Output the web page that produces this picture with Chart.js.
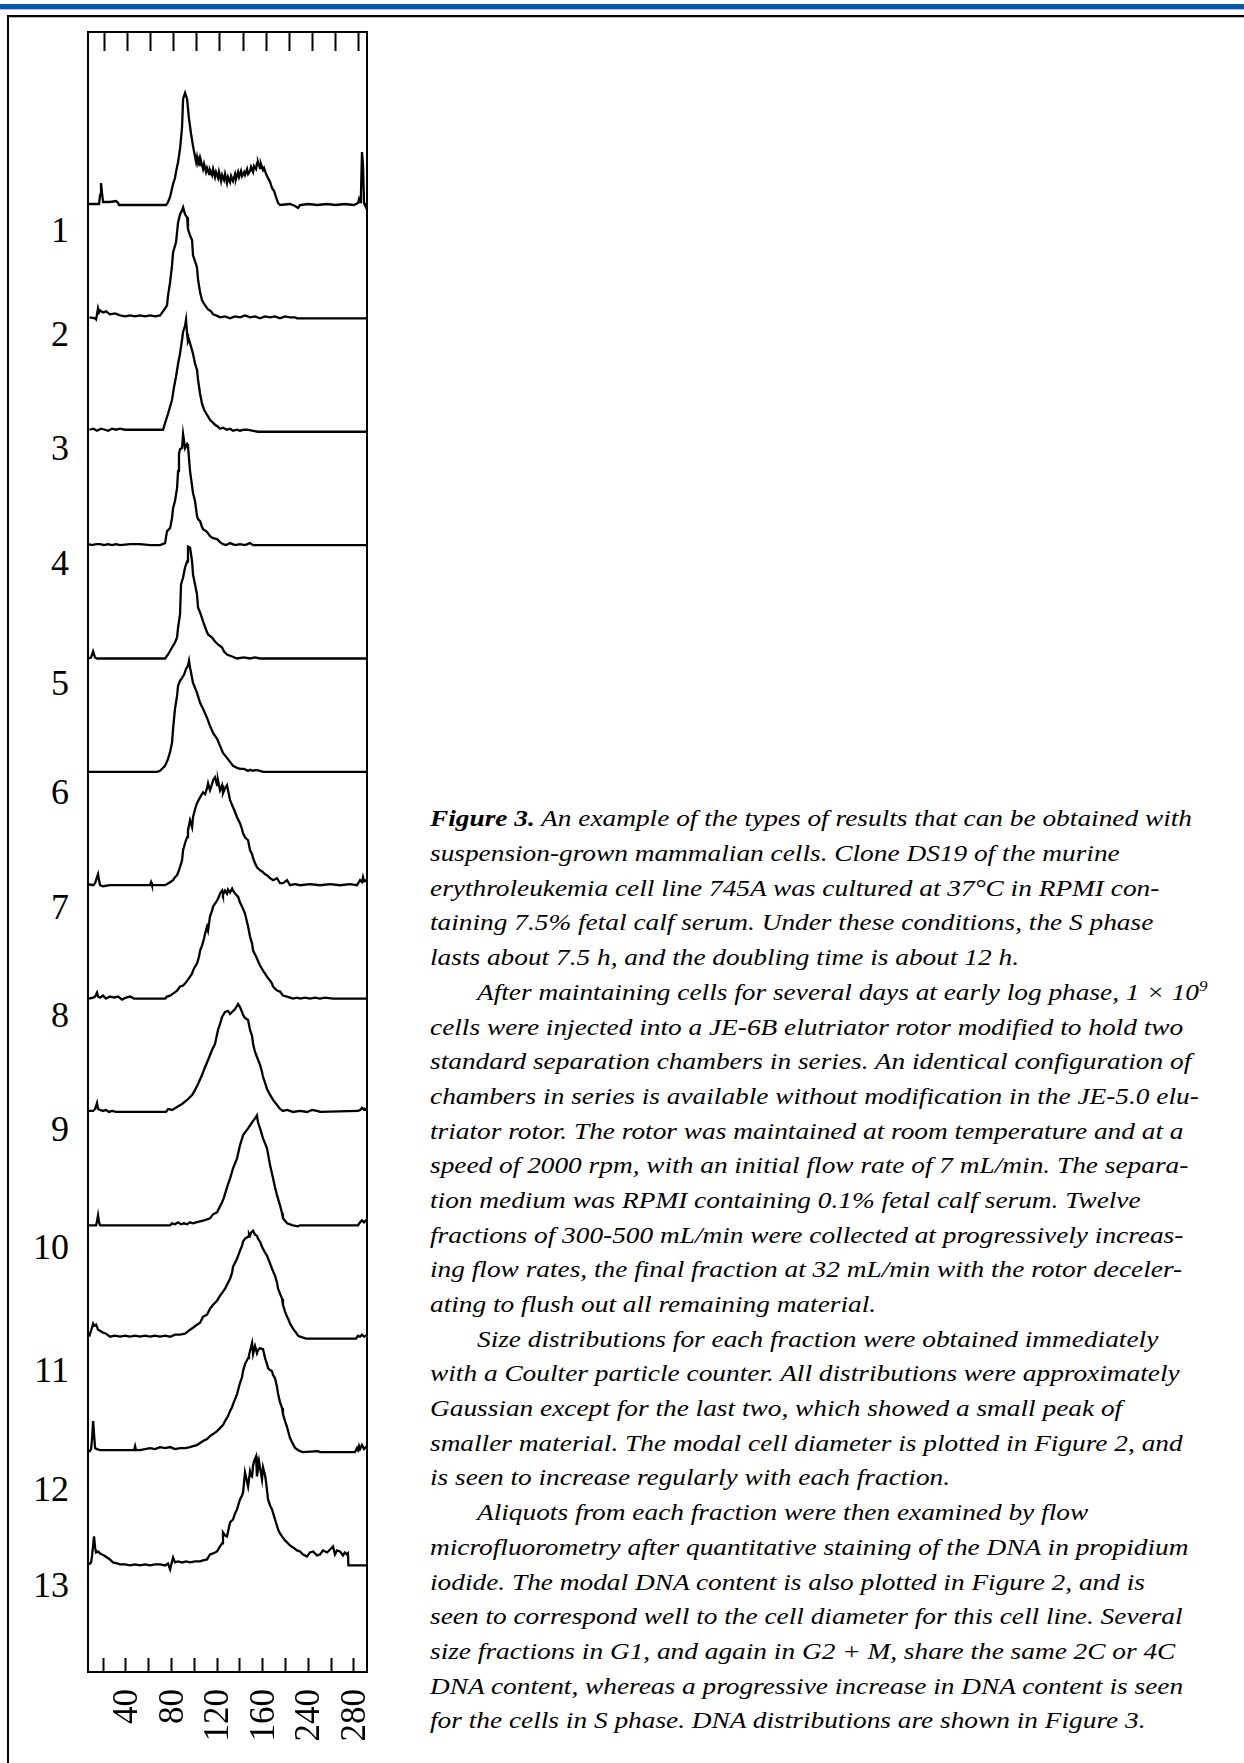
<!DOCTYPE html>
<html><head><meta charset="utf-8">
<script src="https://cdn.jsdelivr.net/npm/chart.js@4.4.1/dist/chart.umd.min.js"></script>
<style>
html,body{margin:0;padding:0;background:#fff;}
body{width:1244px;height:1763px;position:relative;overflow:hidden;}
#bar{position:absolute;left:0;top:4px;width:1244px;height:5px;background:#0758a8;}
#bar2{position:absolute;left:0;top:9px;width:1244px;height:1px;background:#a7c4e6;}
#frameTop{position:absolute;left:7px;top:15px;width:1237px;height:2px;background:#000;}
#frameShadow{position:absolute;left:9px;top:17px;width:1235px;height:1px;background:#bbb;}
#frameLeft{position:absolute;left:7px;top:15px;width:2px;height:1748px;background:#000;}
#chart{position:absolute;left:0;top:0;}
.rowlab{position:absolute;left:9px;width:60px;text-align:right;font-family:'Liberation Serif','Times New Roman',serif;font-size:36px;line-height:36px;color:#000;}
#caption{position:absolute;left:430px;top:801.4px;font-family:'Liberation Serif','Times New Roman',serif;font-style:italic;font-size:24px;line-height:34.7px;color:#000;white-space:nowrap;transform-origin:0 0;}
#caption div{height:34.7px;}
#caption sup{font-size:15px;line-height:0;vertical-align:9px;}
</style>
</head>
<body>
<div id="bar"></div><div id="bar2"></div>
<div id="frameTop"></div><div id="frameShadow"></div><div id="frameLeft"></div>
<div id="rowLabels"></div>
<div id="caption">
<div id="capFirst"><b>Figure 3.</b> An example of the types of results that can be obtained with</div>
<div>suspension-grown mammalian cells. Clone DS19 of the murine</div>
<div>erythroleukemia cell line 745A was cultured at 37°C in RPMI con-</div>
<div>taining 7.5% fetal calf serum. Under these conditions, the S phase</div>
<div>lasts about 7.5 h, and the doubling time is about 12 h.</div>
<div class="ind">After maintaining cells for several days at early log phase, 1 × 10<sup>9</sup></div>
<div>cells were injected into a JE-6B elutriator rotor modified to hold two</div>
<div>standard separation chambers in series. An identical configuration of</div>
<div>chambers in series is available without modification in the JE-5.0 elu-</div>
<div>triator rotor. The rotor was maintained at room temperature and at a</div>
<div>speed of 2000 rpm, with an initial flow rate of 7 mL/min. The separa-</div>
<div>tion medium was RPMI containing 0.1% fetal calf serum. Twelve</div>
<div>fractions of 300-500 mL/min were collected at progressively increas-</div>
<div>ing flow rates, the final fraction at 32 mL/min with the rotor deceler-</div>
<div>ating to flush out all remaining material.</div>
<div class="ind">Size distributions for each fraction were obtained immediately</div>
<div>with a Coulter particle counter. All distributions were approximately</div>
<div>Gaussian except for the last two, which showed a small peak of</div>
<div>smaller material. The modal cell diameter is plotted in Figure 2, and</div>
<div>is seen to increase regularly with each fraction.</div>
<div class="ind">Aliquots from each fraction were then examined by flow</div>
<div>microfluorometry after quantitative staining of the DNA in propidium</div>
<div>iodide. The modal DNA content is also plotted in Figure 2, and is</div>
<div>seen to correspond well to the cell diameter for this cell line. Several</div>
<div>size fractions in G1, and again in G2 + M, share the same 2C or 4C</div>
<div>DNA content, whereas a progressive increase in DNA content is seen</div>
<div>for the cells in S phase. DNA distributions are shown in Figure 3.</div>
</div>
<canvas id="chart" width="1244" height="1763"></canvas>
<script>
// ---- data: [channel, relative count] per fraction ----
const fractionLabels = ['1','2','3','4','5','6','7','8','9','10','11','12','13'];
const tickValues = [20,40,60,80,100,120,140,160,180,200,220,240];
const tickLabels = ['','40','','80','','120','','160','','240','','280'];

const fraction1 = [[6.8,1],[16.5,1],[17.4,10],[18.2,22],[19.1,12],[20.0,3],[26.1,3],[31.4,4],[33.2,2],[34.0,0],[61.2,0],[75.3,0],[77.0,3],[78.8,8],[81.4,21],[83.1,27],[84.0,33],[85.8,43],[87.5,56],[89.3,78],[90.2,106],[91.9,112],[93.7,106],[95.4,86],[97.2,71],[98.9,59],[101.6,43],[102.4,48],[103.3,42],[104.2,46],[105.1,40],[105.9,44],[107.7,36],[108.6,41],[110.3,33],[111.2,37],[113.0,31],[113.8,35],[115.6,30],[116.5,36],[118.2,28],[119.1,33],[120.9,27],[121.7,33],[123.5,24],[124.4,30],[126.1,25],[127.0,31],[128.7,22],[129.6,28],[131.4,23],[132.3,29],[134.0,24],[135.8,31],[136.6,26],[138.4,33],[139.3,28],[141.0,34],[141.9,29],[143.7,33],[144.5,30],[146.3,36],[147.2,31],[148.9,34],[149.8,38],[151.6,33],[152.4,39],[154.2,36],[155.1,42],[155.9,43],[157.7,37],[158.5,41],[160.3,35],[161.2,37],[163.0,31],[164.7,27],[166.5,23],[168.2,17],[170.0,14],[171.7,8],[173.5,2],[175.2,0],[184.0,1],[188.4,-1],[191.0,-3],[192.8,0],[200.0,1],[208.0,0],[216.0,1],[224.0,0],[232.0,1],[240.0,0],[243.6,2],[244.5,6],[245.4,3],[246.2,10],[247.1,53],[248.0,40],[248.9,2],[249.7,0],[251.5,0]];

const fraction2 = [[8.1,1],[13.0,0],[13.9,-1],[14.7,4],[15.6,10],[16.5,6],[17.4,8],[20.0,6],[22.6,7],[26.1,4],[30.5,5],[34.9,3],[39.3,2],[43.7,3],[48.1,2],[52.4,3],[56.8,2],[61.2,3],[65.6,2],[70.0,3],[72.6,7],[74.4,10],[76.1,13],[77.0,23],[78.8,36],[80.5,53],[81.4,66],[84.0,76],[85.8,96],[87.5,104],[89.3,108],[90.2,111],[91.9,104],[93.7,101],[94.5,89],[96.3,83],[98.1,78],[98.9,63],[100.7,57],[102.4,51],[103.3,39],[105.1,26],[106.8,18],[109.5,13],[112.1,9],[114.7,7],[116.5,4],[119.1,3],[122.6,1],[127.0,2],[131.4,0],[135.8,2],[140.1,1],[144.5,3],[148.9,1],[153.3,2],[157.7,0],[162.1,2],[166.5,1],[170.8,2],[175.2,0],[179.6,2],[184.0,1],[188.4,1],[190.1,0],[251.5,0]];

const fraction3 = [[8.1,2],[11.5,3],[14.7,1],[18.2,3],[21.8,2],[24.4,1],[27.9,3],[31.4,2],[34.9,3],[39.3,2],[43.7,2],[52.4,2],[61.2,2],[70.0,2],[72.6,2],[75.3,12],[77.0,18],[80.5,32],[82.3,45],[84.0,55],[85.8,68],[87.5,78],[89.3,92],[90.2,100],[91.9,106],[92.8,112],[93.7,98],[94.5,90],[95.4,92],[97.2,85],[98.9,78],[100.7,68],[102.4,62],[103.3,52],[105.1,38],[106.8,28],[108.6,22],[111.2,17],[113.8,12],[116.5,9],[118.2,7],[120.8,5],[122.6,3],[125.2,4],[128.7,2],[131.4,3],[134.0,1],[137.5,2],[140.1,1],[143.7,2],[146.3,2],[150.7,1],[155.9,0],[251.5,0]];

const fraction4 = [[6.8,1],[10.4,0],[13.9,1],[17.4,1],[20.9,0],[24.4,1],[27.9,0],[31.4,1],[34.9,0],[43.7,1],[52.4,1],[61.2,0],[70.0,0],[74.4,2],[76.1,14],[78.8,17],[80.5,27],[81.4,37],[83.1,44],[84.9,57],[85.8,74],[86.6,91],[87.5,96],[89.3,97],[90.2,111],[91.9,97],[93.7,101],[94.5,99],[96.3,74],[98.1,59],[98.9,52],[100.7,44],[102.4,29],[103.3,26],[105.1,24],[106.8,18],[107.7,16],[110.3,14],[112.1,12],[113.8,9],[116.5,7],[120.0,6],[122.6,3],[125.2,1],[127.9,0],[131.4,2],[135.8,0],[140.1,1],[144.5,0],[148.9,2],[151.6,0],[251.5,0]];

const fraction5 = [[6.8,0],[9.5,1],[11.3,7],[13.0,1],[14.7,0],[43.7,0],[74.4,0],[77.0,4],[80.5,11],[83.1,16],[84.9,21],[85.8,31],[87.5,44],[88.4,74],[90.2,81],[91.9,91],[93.7,97],[94.5,112],[96.3,111],[98.1,97],[98.9,84],[100.7,74],[102.4,64],[103.3,51],[105.1,46],[107.7,37],[110.3,29],[112.1,24],[115.6,21],[118.2,17],[120.8,14],[124.4,11],[126.1,7],[128.7,4],[133.2,2],[137.5,0],[143.3,1],[149.0,0],[153.3,1],[157.7,0],[251.5,0]];

const fraction6 = [[6.8,0],[34.9,0],[67.4,0],[70.0,1],[74.4,6],[77.0,13],[78.8,20],[80.5,29],[81.4,43],[83.1,63],[84.9,76],[85.8,86],[87.5,91],[89.3,94],[91.0,97],[92.8,103],[94.5,106],[95.4,111],[96.3,104],[97.2,99],[98.9,89],[100.7,84],[102.4,79],[105.1,69],[107.7,63],[111.2,54],[113.8,46],[116.5,39],[120.0,33],[122.6,26],[125.2,19],[128.7,14],[131.4,10],[134.0,6],[137.5,4],[140.1,3],[143.7,3],[147.2,1],[148.9,2],[151.6,1],[154.2,2],[157.7,1],[160.3,0],[251.5,0]];

const fraction7 = [[6.8,1],[11.3,0],[13.0,2],[14.7,8],[15.6,11],[16.5,5],[17.4,0],[20.0,-1],[26.1,0],[43.7,0],[61.2,0],[62.1,3],[62.9,0],[74.4,0],[78.8,3],[81.4,5],[83.1,8],[84.9,10],[86.6,15],[89.3,25],[90.2,35],[91.9,42],[93.7,48],[94.5,55],[96.3,65],[98.1,58],[98.9,68],[100.7,76],[102.4,82],[105.1,88],[107.7,93],[109.5,91],[111.2,97],[112.1,102],[113.8,95],[115.6,101],[116.5,105],[118.2,108],[120.0,100],[120.8,105],[122.6,95],[124.4,100],[125.2,92],[127.0,97],[128.7,100],[129.6,95],[131.4,85],[134.0,78],[135.8,73],[137.5,68],[140.1,62],[141.9,56],[142.8,52],[144.5,48],[147.2,45],[148.9,35],[150.7,31],[151.6,27],[153.3,22],[155.0,18],[157.7,15],[160.3,13],[162.1,11],[163.8,10],[166.5,7],[169.1,5],[170.8,6],[172.6,7],[175.2,2],[177.8,2],[181.4,5],[184.0,0],[188.4,1],[192.8,0],[201.5,1],[210.3,0],[219.1,1],[227.8,0],[236.6,1],[242.7,0],[245.4,5],[247.1,3],[248.0,8],[248.9,4],[250.6,5],[251.5,3]];

const fraction8 = [[7.7,0],[11.3,1],[13.0,2],[13.9,4],[14.7,6],[15.6,2],[17.4,1],[20.0,3],[22.6,0],[26.1,2],[29.6,1],[33.2,2],[36.7,-1],[40.2,1],[43.7,2],[47.2,0],[52.4,0],[74.4,0],[76.1,2],[78.8,3],[81.4,5],[84.9,8],[87.5,12],[90.2,13],[91.9,15],[94.5,19],[96.3,22],[98.1,25],[98.9,28],[100.7,32],[102.4,35],[104.2,42],[105.1,48],[106.8,53],[108.6,60],[109.5,65],[111.2,72],[112.1,68],[113.8,82],[115.6,88],[116.5,92],[118.2,95],[120.0,98],[121.7,102],[122.6,105],[124.4,108],[125.2,104],[127.0,108],[128.7,105],[129.6,109],[131.4,106],[133.2,110],[134.0,108],[135.8,105],[137.5,103],[138.4,102],[140.1,96],[141.9,92],[144.5,85],[147.2,72],[148.9,62],[150.7,55],[151.6,48],[153.3,44],[155.0,40],[157.7,33],[160.3,28],[162.1,25],[163.8,22],[166.5,18],[168.2,15],[169.1,12],[170.8,10],[172.6,8],[175.2,7],[177.8,3],[181.4,2],[184.0,1],[186.6,0],[190.1,1],[192.8,0],[197.2,1],[201.5,0],[205.9,1],[210.3,0],[214.7,1],[221.7,0],[251.5,0]];

const fraction9 = [[7.7,1],[11.3,1],[13.0,3],[13.9,6],[14.7,9],[15.6,3],[17.4,2],[20.0,1],[22.6,2],[25.2,0],[27.9,1],[31.4,0],[43.7,0],[75.3,0],[77.0,3],[80.5,2],[84.9,5],[89.3,8],[93.7,12],[98.1,17],[100.7,22],[103.3,28],[106.8,37],[109.5,45],[112.1,52],[115.6,62],[118.2,68],[120.8,82],[122.6,88],[124.4,95],[127.0,100],[129.6,101],[131.4,98],[133.2,100],[135.8,103],[137.5,106],[138.4,108],[140.1,105],[141.9,100],[142.8,97],[144.5,94],[147.2,92],[148.9,82],[150.7,76],[151.6,68],[153.3,60],[155.0,55],[157.7,47],[159.4,40],[160.3,35],[162.1,29],[163.8,23],[166.5,17],[169.1,12],[172.6,7],[175.2,3],[177.8,1],[181.4,2],[186.6,0],[192.8,1],[198.9,0],[203.3,2],[207.7,1],[210.3,0],[243.6,1],[245.4,2],[247.1,4],[248.9,2],[249.7,3],[251.5,2]];

const fraction10 = [[7.7,0],[13.9,0],[14.7,4],[15.6,10],[16.5,3],[17.4,0],[43.7,0],[78.8,0],[80.5,2],[83.1,1],[85.8,3],[88.4,1],[91.0,2],[93.7,1],[96.3,3],[98.9,2],[101.6,3],[105.1,4],[108.6,5],[111.2,6],[113.8,7],[116.5,11],[120.0,13],[122.6,19],[124.4,23],[126.1,28],[128.7,38],[131.4,47],[134.0,57],[137.5,67],[140.1,80],[142.8,90],[144.5,93],[147.2,97],[150.7,103],[153.3,107],[155.0,110],[155.9,103],[157.7,97],[160.3,87],[162.1,82],[163.8,77],[166.5,60],[169.1,47],[170.8,38],[172.6,30],[175.2,20],[177.0,12],[177.8,7],[181.4,2],[184.0,1],[186.6,0],[191.0,-1],[192.8,0],[243.6,0],[245.4,3],[247.1,5],[248.9,3],[250.6,5],[251.5,4]];

const fraction11 = [[7.7,2],[9.5,8],[11.3,15],[12.1,13],[13.9,14],[15.6,9],[17.4,8],[20.0,6],[22.6,5],[26.1,2],[30.5,3],[34.9,2],[39.3,3],[43.7,2],[48.1,3],[52.4,2],[56.8,3],[61.2,2],[65.6,3],[70.0,2],[74.4,3],[78.8,2],[83.1,4],[87.5,4],[91.9,5],[96.3,9],[98.9,11],[102.4,14],[105.1,16],[107.7,22],[111.2,24],[113.8,30],[116.5,34],[120.0,38],[122.6,43],[125.2,47],[127.0,50],[129.6,56],[131.4,60],[133.2,66],[134.0,72],[135.8,76],[137.5,80],[140.1,88],[141.9,93],[142.8,97],[144.5,100],[147.2,102],[148.0,105],[148.9,103],[149.8,106],[151.6,108],[153.3,104],[155.0,103],[155.9,100],[157.7,97],[159.4,92],[160.3,90],[162.1,86],[163.8,83],[166.5,75],[168.2,70],[170.8,63],[172.6,56],[173.5,50],[175.2,45],[177.0,40],[177.8,34],[179.6,27],[181.4,22],[182.3,20],[184.0,15],[186.6,10],[189.3,6],[191.0,3],[192.8,2],[195.4,1],[198.0,0],[201.5,0],[241.9,0],[243.6,3],[245.4,2],[247.1,4],[248.9,2],[250.6,3],[251.5,3]];

const fraction12 = [[7.7,0],[9.5,3],[10.4,14],[11.3,31],[12.1,18],[13.0,4],[14.7,3],[17.4,2],[21.8,2],[26.1,2],[30.5,2],[34.9,2],[39.3,2],[43.7,2],[47.2,2],[48.1,6],[48.9,2],[52.4,2],[56.8,3],[61.2,4],[65.6,3],[70.0,5],[74.4,4],[78.8,5],[83.1,3],[87.5,4],[91.9,4],[96.3,5],[98.9,6],[102.4,7],[105.1,9],[107.7,11],[111.2,13],[113.8,16],[116.5,18],[120.0,21],[122.6,24],[125.2,27],[127.0,31],[129.6,36],[131.4,41],[133.2,45],[134.0,48],[135.8,53],[137.5,58],[140.1,69],[141.9,75],[142.8,81],[144.5,88],[147.2,94],[148.0,97],[148.9,101],[149.8,105],[150.7,109],[151.6,98],[153.3,106],[155.0,99],[155.9,102],[157.7,104],[159.4,103],[160.3,103],[162.1,94],[163.8,88],[164.7,84],[166.5,82],[168.2,81],[169.1,77],[170.8,74],[172.6,65],[173.5,58],[175.2,50],[177.0,44],[177.8,38],[179.6,31],[181.4,25],[182.3,21],[184.0,14],[185.7,10],[188.4,4],[191.0,2],[192.8,1],[195.4,0],[208.5,1],[210.3,0],[227.8,0],[241.0,0],[242.7,4],[243.6,2],[244.5,6],[245.4,3],[247.1,7],[248.9,3],[250.6,5],[251.5,4]];

const fraction13 = [[7.7,1],[9.5,3],[10.4,10],[11.3,20],[12.1,29],[13.0,18],[13.9,13],[15.6,14],[17.4,12],[19.1,11],[20.9,10],[23.5,8],[26.1,6],[28.7,3],[32.3,2],[34.9,1],[39.3,1],[43.7,0],[48.1,1],[52.4,0],[56.8,1],[61.2,0],[65.6,1],[70.0,1],[74.4,0],[77.0,2],[78.8,-4],[80.5,4],[81.4,8],[83.1,3],[85.8,4],[89.3,3],[92.8,4],[96.3,3],[100.7,4],[105.1,4],[107.7,5],[111.2,6],[113.8,11],[116.5,12],[120.0,14],[122.6,19],[124.4,22],[125.2,33],[127.0,30],[128.7,29],[131.4,43],[134.0,46],[135.8,52],[137.5,56],[140.1,66],[141.9,70],[142.8,73],[144.5,93],[147.2,79],[148.9,94],[149.8,90],[150.7,89],[151.6,100],[152.4,104],[154.2,109],[155.0,89],[156.8,104],[158.5,92],[159.4,86],[160.3,98],[162.1,90],[163.0,83],[164.7,66],[166.5,60],[168.2,56],[170.8,46],[173.5,36],[175.2,32],[177.0,29],[179.6,25],[181.4,23],[184.0,20],[186.6,18],[190.1,15],[192.8,14],[195.4,11],[198.9,9],[201.5,13],[204.2,14],[207.7,10],[210.3,11],[212.9,15],[216.5,13],[219.1,16],[221.7,19],[223.4,11],[225.2,15],[227.8,14],[230.4,10],[232.1,13],[233.9,11],[234.8,12],[235.2,0],[251.5,0]];

const fractions = [fraction1,fraction2,fraction3,fraction4,fraction5,fraction6,fraction7,fraction8,fraction9,fraction10,fraction11,fraction12,fraction13];

// ---- layout (not data) ----
const TRACE_GAP = 113.37;       // vertical offset between stacked traces (y units)
const FIRST_BASE = 1467;        // baseline of the top trace (y units)
const labelCenters = [230,334,448,563,683,792,907,1015,1129,1247,1370,1489,1585];

const rl = document.getElementById('rowLabels');
fractionLabels.forEach((t, i) => {
  const d = document.createElement('div');
  d.className = 'rowlab';
  d.style.top = (labelCenters[i] - 18.2) + 'px';
  d.textContent = t;
  rl.appendChild(d);
});

// caption: stretch horizontally to match the reference's wide italic face
(function () {
  const cap = document.getElementById('caption');
  const first = document.getElementById('capFirst');
  const r = document.createRange();
  r.selectNodeContents(first);
  const w = r.getBoundingClientRect().width;
  const k = 762 / w;
  cap.style.transform = 'scaleX(' + k + ')';
  cap.querySelectorAll('.ind').forEach(el => { el.style.paddingLeft = (47 / k) + 'px'; });
})();

const datasets = fractions.map((f, i) => ({
  label: 'Fraction ' + fractionLabels[i],
  data: f.map(([x, v]) => ({x: x, y: FIRST_BASE - i * TRACE_GAP + v})),
  borderColor: '#000',
  borderWidth: 2.3,
  pointRadius: 0,
  tension: 0,
  fill: false,
  xAxisID: 'x',
  yAxisID: 'y'
}));

const serif = "'Liberation Serif','Times New Roman',serif";
const zeroH = s => { s.height = 0; };
const zeroW = s => { s.width = 0; };

new Chart(document.getElementById('chart'), {
  type: 'line',
  data: { datasets },
  options: {
    responsive: false,
    animation: false,
    devicePixelRatio: 1,
    layout: { autoPadding: false, padding: { left: 88, top: 32, right: 877, bottom: 0 } },
    plugins: { legend: { display: false }, tooltip: { enabled: false } },
    scales: {
      x: {
        type: 'linear', position: 'bottom', min: 6.8, max: 251.5,
        afterBuildTicks: s => { s.ticks = tickValues.map(v => ({ value: v })); },
        afterFit: s => { s.height = 91; },
        grid: { drawOnChartArea: false, drawTicks: true, tickLength: -14, tickWidth: 2, tickColor: '#000' },
        border: { display: true, color: '#000', width: 2 },
        ticks: {
          autoSkip: false, minRotation: 90, maxRotation: 90, padding: 31, labelOffset: 2,
          color: '#000', font: { family: serif, size: 35 },
          callback: (v, i) => tickLabels[i]
        }
      },
      xTop: {
        type: 'linear', position: 'top', min: 5.27, max: 247.78,
        afterBuildTicks: s => { s.ticks = tickValues.map(v => ({ value: v })); },
        afterFit: zeroH,
        grid: { drawOnChartArea: false, drawTicks: true, tickLength: -19, tickWidth: 2, tickColor: '#000' },
        border: { display: true, color: '#000', width: 2 },
        ticks: { display: false }
      },
      y: {
        type: 'linear', position: 'left', min: 0, max: 1640,
        afterFit: zeroW,
        grid: { drawOnChartArea: false, drawTicks: false },
        border: { display: true, color: '#000', width: 2 },
        ticks: { display: false }
      },
      yRight: {
        type: 'linear', position: 'right', min: 0, max: 1640,
        afterFit: zeroW,
        grid: { drawOnChartArea: false, drawTicks: false },
        border: { display: true, color: '#000', width: 2 },
        ticks: { display: false }
      }
    }
  }
});
</script>
</body></html>
